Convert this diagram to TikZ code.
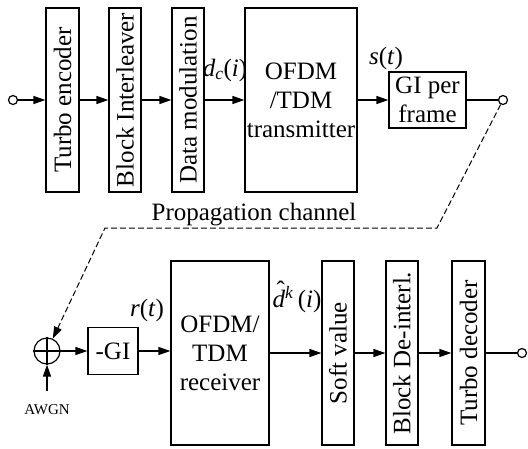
\documentclass[tikz,border=0pt]{standalone}
\usepackage{fontspec}
\setmainfont{Liberation Serif}
\usetikzlibrary{arrows.meta}
\newcommand{\dhatsym}{\ooalign{\textit{d}\cr\hidewidth\kern0.16em\raisebox{0.36em}{\char"02C6}\hidewidth\cr}}
\begin{document}
\begin{tikzpicture}[x=1pt,y=-1pt,
  every node/.style={font=\fontsize{25}{29}\selectfont},
  blk/.style={draw, line width=1.2pt, inner sep=0pt, align=center},
  vblk/.style={blk, rotate=90, minimum width=184pt, minimum height=32pt},
  arr/.style={line width=1.2pt, -{Triangle[length=12pt,width=8pt]}},
  ln/.style={line width=1.2pt},
  term/.style={draw, circle, line width=1.2pt, minimum size=9pt, inner sep=0pt},
  lab/.style={inner sep=0pt}
]
\useasboundingbox (0,0) rectangle (528,448);
% top row
\node[term] (in) at (13,100) {};
\node[vblk, minimum height=33pt] (te) at (62.5,100) {Turbo encoder};
\node[vblk] (bi) at (125,100) {Block Interleaver};
\node[vblk] (dm) at (188,100) {Data modulation};
\node[blk, minimum width=112pt, minimum height=184pt] (tx) at (301,100) {OFDM\\/TDM\\transmitter};
\node[blk, minimum width=77pt, minimum height=56pt] (gi) at (427.5,100) {GI per\\frame};
\node[term] (out1) at (503,100) {};
\draw[arr] (in) -- (te);
\draw[arr] (te) -- (bi);
\draw[arr] (bi) -- (dm);
\draw[arr] (dm) -- (tx);
\draw[arr] (tx) -- (gi);
\draw[ln] (gi) -- (out1);
\node[lab] (dc) at (225,70) {\textit{d}\textsubscript{\textit{c}}(\textit{i})};
\node[lab] (st) at (386,58) {\textit{s}(\textit{t})};
% channel
\node[lab, anchor=base] (pc) at (254,220) {Propagation channel};
\coordinate (c1) at (437,228);
\coordinate (c2) at (105,228);
% bottom row
\node[draw, circle, line width=1.2pt, minimum size=26pt, inner sep=0pt] (add) at (47,351) {};
\draw[line width=1.2pt] (add.north) -- (add.south) (add.west) -- (add.east);
\draw[dashed, dash pattern=on 6pt off 3pt, line width=1pt, -{Triangle[length=12pt,width=8pt]}] (out1) -- (c1) -- (c2) -- (add);
\node[lab, font=\fontsize{15}{18}\selectfont] (awgn) at (47,410) {AWGN};
\coordinate (awgnin) at (47,391);
\draw[arr] (awgnin) -- (add);
\node[blk, minimum width=50pt, minimum height=47pt] (mgi) at (113,351) {-GI};
\node[blk, minimum width=98pt, minimum height=184pt] (rx) at (220,353) {OFDM/\\TDM\\receiver};
\node[vblk] (sv) at (338,353) {Soft value};
\node[vblk] (bd) at (402,353) {Block De-interl.};
\node[vblk, minimum height=33pt] (td) at (468.5,353) {Turbo decoder};
\node[term] (out2) at (522,353) {};
\draw[arr] (add) -- (mgi);
\draw[arr] (mgi) -- (mgi -| rx.west);
\draw[arr] (rx) -- (sv);
\draw[arr] (sv) -- (bd);
\draw[arr] (bd) -- (td);
\draw[ln] (td) -- (out2);
\node[lab] (rt) at (147,310) {\textit{r}(\textit{t})};
\node[lab] (dk) at (297,300) {\dhatsym\textsuperscript{\textit{k}}\,(\textit{i})};
\end{tikzpicture}
\end{document}
